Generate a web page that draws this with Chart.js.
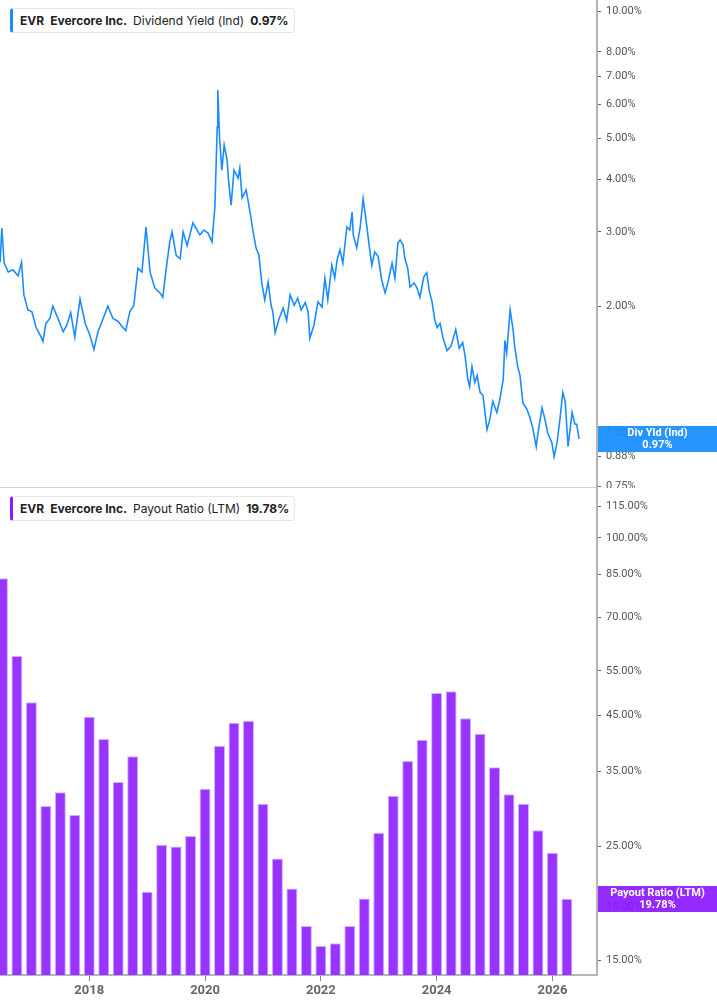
<!DOCTYPE html>
<html>
<head>
<meta charset="utf-8">
<script src="https://cdn.jsdelivr.net/npm/chart.js@4.4.1/dist/chart.umd.min.js"></script>
<style>
  html, body { margin: 0; padding: 0; background: #fff; }
  #wrap { position: relative; width: 717px; height: 1005px; overflow: hidden; }
  .panel { position: absolute; left: 0; width: 717px; }
  .legend {
    position: absolute; left: 10px; height: 25px; padding: 0 5px 0 7px;
    background: #fff; border: 1px solid #e6e6e6; border-radius: 3px;
    font-family: Inter, 'Noto Sans', sans-serif; font-size: 12px; color: #222;
    line-height: 23px; white-space: nowrap; box-sizing: border-box;
  }
  .legend b { font-weight: 700; }
  .legend span { margin-right: 6px; }
  .badge {
    position: absolute; left: 598px; width: 119px; height: 26px;
    color: #fff; font-family: Roboto, 'Noto Sans', sans-serif; font-weight: 700;
    font-size: 11px; line-height: 12px; text-align: center; padding-top: 1px; box-sizing: border-box;
  }
</style>
</head>
<body>
<div id="wrap">
  <div class="panel" style="top:0;height:488px"><canvas id="yieldChart" width="717" height="488"></canvas></div>
  <div class="panel" style="top:488px;height:517px"><canvas id="payoutChart" width="717" height="517"></canvas></div>

  <div class="legend" style="top:8px;border-left:3px solid #1a8cff">
    <span><b>EVR</b></span><span><b>Evercore Inc.</b></span><span>Dividend Yield (Ind)</span><b>0.97%</b>
  </div>
  <div class="legend" style="top:496px;border-left:3px solid #8c1aff">
    <span><b>EVR</b></span><span><b>Evercore Inc.</b></span><span>Payout Ratio (LTM)</span><b>19.78%</b>
  </div>

  <div class="badge" id="yieldBadge" style="background:rgba(24,140,255,0.93)">Div Yld (Ind)<br>0.97%</div>
  <div class="badge" id="payoutBadge" style="background:rgba(140,26,255,0.93)">Payout Ratio (LTM)<br>19.78%</div>
</div>

<script>
// Dividend yield (%), dates as decimal years
const yieldDates = [
  2016.46, 2016.49, 2016.53, 2016.60, 2016.68, 2016.77, 2016.83, 2016.87, 2016.94, 2017.01,
  2017.08, 2017.15, 2017.20, 2017.25, 2017.32, 2017.37, 2017.46, 2017.55, 2017.61, 2017.68,
  2017.75, 2017.84, 2017.93, 2018.01, 2018.08, 2018.15, 2018.24, 2018.32, 2018.41, 2018.50,
  2018.58, 2018.63, 2018.70, 2018.77, 2018.84, 2018.91, 2018.98, 2019.05, 2019.13, 2019.22,
  2019.27, 2019.33, 2019.39, 2019.43, 2019.50, 2019.57, 2019.62, 2019.69, 2019.79, 2019.86,
  2019.91, 2019.98, 2020.05, 2020.12, 2020.17, 2020.21, 2020.22, 2020.25, 2020.29, 2020.33,
  2020.38, 2020.41, 2020.45, 2020.50, 2020.57, 2020.60, 2020.64, 2020.71, 2020.74, 2020.78,
  2020.83, 2020.88, 2020.93, 2020.98, 2021.03, 2021.09, 2021.14, 2021.17, 2021.21, 2021.28,
  2021.35, 2021.41, 2021.47, 2021.54, 2021.60, 2021.66, 2021.73, 2021.78, 2021.81, 2021.88,
  2021.95, 2022.02, 2022.07, 2022.12, 2022.19, 2022.24, 2022.28, 2022.33, 2022.38, 2022.45,
  2022.50, 2022.54, 2022.56, 2022.62, 2022.68, 2022.73, 2022.78, 2022.83, 2022.88, 2022.93,
  2022.99, 2023.05, 2023.11, 2023.16, 2023.23, 2023.28, 2023.33, 2023.37, 2023.42, 2023.45,
  2023.50, 2023.54, 2023.61, 2023.66, 2023.71, 2023.78, 2023.83, 2023.87, 2023.92, 2023.97,
  2024.01, 2024.06, 2024.11, 2024.18, 2024.25, 2024.33, 2024.39, 2024.45, 2024.49, 2024.54,
  2024.57, 2024.61, 2024.66, 2024.70, 2024.75, 2024.80, 2024.87, 2024.92, 2024.97, 2025.04,
  2025.09, 2025.15, 2025.18, 2025.21, 2025.27, 2025.32, 2025.35, 2025.40, 2025.44, 2025.49,
  2025.56, 2025.61, 2025.66, 2025.72, 2025.75, 2025.82, 2025.87, 2025.92, 2025.99, 2026.03,
  2026.08, 2026.13, 2026.18, 2026.22, 2026.27, 2026.34, 2026.39, 2026.42, 2026.46
];
const yieldValues = [
  2.54, 3.06, 2.53, 2.41, 2.44, 2.36, 2.54, 2.13, 1.96, 1.94,
  1.78, 1.71, 1.65, 1.82, 1.87, 2.00, 1.87, 1.74, 1.80, 1.93,
  1.69, 2.08, 1.82, 1.71, 1.58, 1.74, 1.87, 2.00, 1.87, 1.84,
  1.78, 1.75, 1.94, 2.01, 2.46, 2.41, 3.08, 2.41, 2.21, 2.15,
  2.10, 2.46, 2.84, 3.00, 2.64, 2.59, 3.00, 2.78, 3.15, 3.03,
  2.95, 3.03, 2.98, 2.84, 3.44, 5.31, 6.50, 5.03, 4.20, 4.82,
  4.44, 3.91, 3.47, 4.20, 4.02, 4.25, 3.61, 3.77, 3.57, 3.32,
  3.00, 2.75, 2.64, 2.27, 2.07, 2.28, 2.01, 1.94, 1.73, 1.87,
  1.98, 1.85, 2.13, 2.01, 2.09, 1.96, 2.04, 1.94, 1.68, 1.80,
  2.05, 1.99, 2.33, 2.07, 2.50, 2.33, 2.57, 2.72, 2.53, 3.08,
  3.03, 3.34, 2.95, 2.75, 3.08, 3.59, 3.20, 2.82, 2.50, 2.69,
  2.62, 2.31, 2.15, 2.28, 2.53, 2.33, 2.82, 2.87, 2.79, 2.60,
  2.46, 2.22, 2.27, 2.21, 2.10, 2.35, 2.40, 2.18, 2.05, 1.85,
  1.78, 1.82, 1.68, 1.57, 1.61, 1.76, 1.59, 1.64, 1.53, 1.34,
  1.29, 1.44, 1.32, 1.37, 1.25, 1.23, 1.02, 1.08, 1.19, 1.12,
  1.20, 1.34, 1.66, 1.55, 1.96, 1.76, 1.60, 1.44, 1.37, 1.18,
  1.14, 1.09, 1.03, 0.93, 1.00, 1.15, 1.08, 1.00, 0.95, 0.88,
  0.95, 1.08, 1.25, 1.19, 0.93, 1.12, 1.05, 1.05, 0.97
];

// Payout ratio (LTM, %), one bar per quarter
const payoutQuarters = [
  '2016-07', '2016-10',
  '2017-01', '2017-04', '2017-07', '2017-10',
  '2018-01', '2018-04', '2018-07', '2018-10',
  '2019-01', '2019-04', '2019-07', '2019-10',
  '2020-01', '2020-04', '2020-07', '2020-10',
  '2021-01', '2021-04', '2021-07', '2021-10',
  '2022-01', '2022-04', '2022-07', '2022-10',
  '2023-01', '2023-04', '2023-07', '2023-10',
  '2024-01', '2024-04', '2024-07', '2024-10',
  '2025-01', '2025-04', '2025-07', '2025-10',
  '2026-01', '2026-04'
];
const payoutValues = [
  83.4, 58.8,
  47.8, 30.0, 31.9, 28.8,
  44.8, 40.5, 33.4, 37.5,
  20.4, 25.2, 25.0, 26.2,
  32.4, 39.3, 43.6, 44.0,
  30.3, 23.7, 20.7, 17.5,
  16.0, 16.2, 17.5, 19.8,
  26.6, 31.4, 36.7, 40.4,
  49.8, 50.2, 44.5, 41.5,
  35.7, 31.6, 30.3, 26.9,
  24.3, 19.78
];

// Tick labels
const yieldTicks = [10, 8, 7, 6, 5, 4, 3, 2, 1, 0.88, 0.75];
const payoutTicks = [115, 100, 85, 70, 55, 45, 35, 25, 19, 15];
const yearTicks = [2018, 2020, 2022, 2024, 2026];

const xMin = 2016.458;
const xMax = 2026.77;
const axisColor = '#b5b5b5';

const toYear = s => {
  const [y, m] = s.split('-').map(Number);
  return y + (m - 1) / 12;
};

// Shared right-hand log axis
function rightLogAxis(min, max, ticks) {
  return {
    type: 'logarithmic',
    position: 'right',
    bounds: 'data',
    min: min,
    max: max,
    afterBuildTicks: scale => { scale.ticks = ticks.map(v => ({ value: v })); },
    afterFit: scale => { scale.width = 120; scale.paddingTop = 0; scale.paddingBottom = 0; },
    border: { display: true, color: axisColor, width: 2 },
    grid: { display: true, drawOnChartArea: false, drawTicks: true, tickLength: 4, color: '#666' },
    ticks: {
      autoSkip: false,
      padding: 5,
      color: '#555',
      font: { family: 'Roboto', size: 11 },
      callback: v => Number(v).toFixed(2) + '%'
    }
  };
}

// Dividend yield line
const yieldCtx = document.getElementById('yieldChart').getContext('2d');
const yieldChart = new Chart(yieldCtx, {
  type: 'line',
  data: {
    datasets: [{
      data: yieldDates.map((d, i) => ({ x: d, y: yieldValues[i] })),
      borderColor: '#1a8cff',
      borderWidth: 1.6,
      pointRadius: 0,
      pointHoverRadius: 0,
      tension: 0,
      fill: false
    }]
  },
  options: {
    responsive: false,
    animation: false,
    layout: { padding: 0, autoPadding: false },
    plugins: { legend: { display: false }, tooltip: { enabled: false } },
    scales: {
      x: {
        type: 'linear',
        min: xMin,
        max: xMax,
        afterFit: scale => { scale.height = 1; scale.paddingLeft = 0; scale.paddingRight = 0; },
        border: { display: true, color: '#d0d0d0', width: 1 },
        grid: { display: false, drawTicks: false },
        ticks: { display: false }
      },
      y: rightLogAxis(0.746, 10.62, yieldTicks)
    }
  }
});

// Payout ratio bars
const payoutCtx = document.getElementById('payoutChart').getContext('2d');
const payoutChart = new Chart(payoutCtx, {
  type: 'bar',
  data: {
    datasets: [{
      data: payoutQuarters.map((q, i) => ({ x: toYear(q), y: payoutValues[i] })),
      backgroundColor: '#9933ff',
      borderColor: '#d2b0ff',
      borderWidth: 1,
      categoryPercentage: 0.8,
      barPercentage: 0.95
    }]
  },
  options: {
    responsive: false,
    animation: false,
    layout: { padding: 0, autoPadding: false },
    plugins: { legend: { display: false }, tooltip: { enabled: false } },
    scales: {
      x: {
        type: 'linear',
        min: xMin,
        max: xMax,
        offset: false,
        afterBuildTicks: scale => { scale.ticks = yearTicks.map(v => ({ value: v })); },
        afterFit: scale => { scale.height = 30; scale.paddingLeft = 0; scale.paddingRight = 0; },
        border: { display: true, color: axisColor, width: 2 },
        grid: { display: true, offset: false, drawOnChartArea: false, drawTicks: true, tickLength: 6, color: '#888' },
        ticks: {
          autoSkip: false,
          maxRotation: 0,
          padding: 2,
          color: '#666',
          font: { family: 'Roboto', size: 13, weight: 'bold' },
          callback: v => String(v)
        }
      },
      y: rightLogAxis(14.04, 125.1, payoutTicks)
    }
  }
});

// Last-value badges on the right axis
const yLast = yieldChart.scales.y.getPixelForValue(yieldValues[yieldValues.length - 1]);
document.getElementById('yieldBadge').style.top = (yLast - 13) + 'px';
const pLast = payoutChart.scales.y.getPixelForValue(payoutValues[payoutValues.length - 1]);
document.getElementById('payoutBadge').style.top = (488 + pLast - 13) + 'px';
</script>
</body>
</html>
